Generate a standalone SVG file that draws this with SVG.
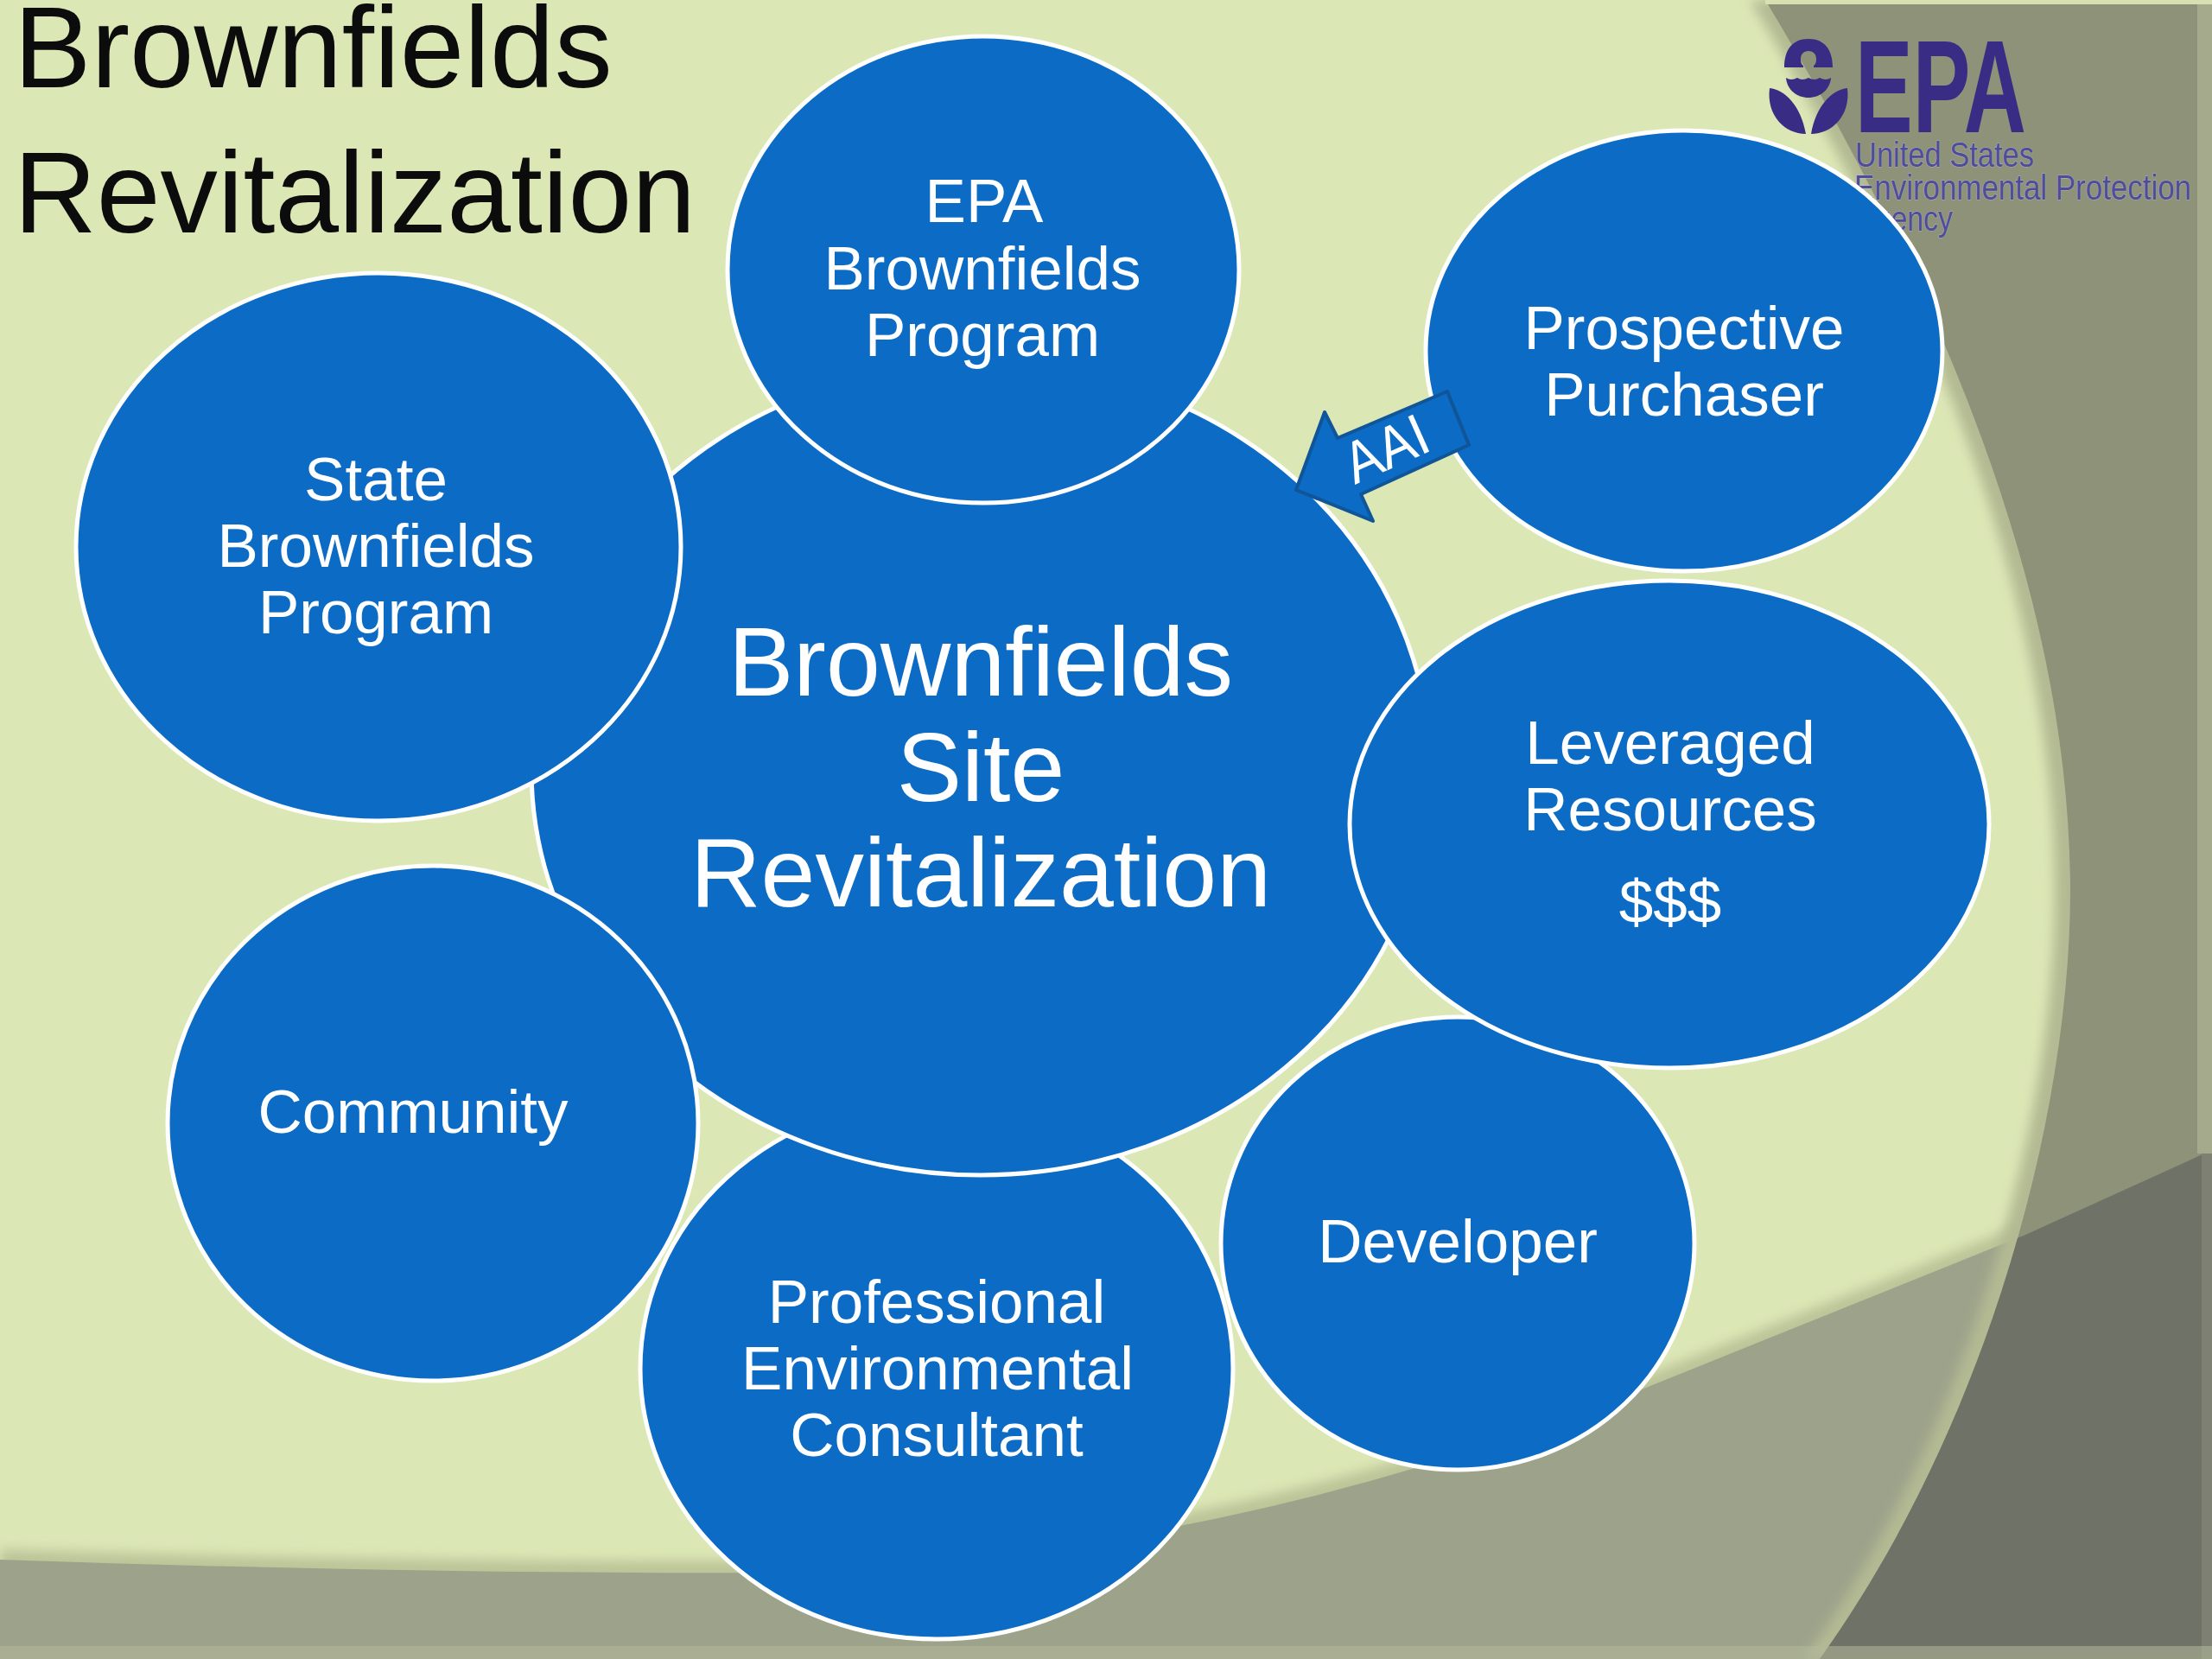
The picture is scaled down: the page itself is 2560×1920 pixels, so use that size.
<svg xmlns="http://www.w3.org/2000/svg" width="2560" height="1920" viewBox="0 0 2560 1920">
<style>
.n{fill:#0c6bc4;stroke:#fff;stroke-width:5}
.t{font-family:"Liberation Sans",Arial,sans-serif;fill:#fff;font-size:71px;text-anchor:middle}
.big{font-size:113px}
.title{font-family:"Liberation Sans",Arial,sans-serif;fill:#0c0c0c;font-size:134px}
.logo{font-family:"Liberation Sans",Arial,sans-serif;fill:#4f4c9c;stroke:#c4c6d4;stroke-width:1.2;stroke-opacity:.6;paint-order:stroke;font-size:41px}
</style>
<defs>
<clipPath id="cr"><path d="M2043 0C2200 260 2395 640 2396 1030C2396 1290 2300 1650 2106 1920L2560 1920L2560 0Z"/></clipPath>
<filter id="b" x="-5%" y="-5%" width="110%" height="110%"><feGaussianBlur stdDeviation="7"/></filter>
</defs>
<g id="background">
<rect width="2560" height="1920" fill="#dce7b6"/>
<path d="M0 1793Q500 1808 900 1806Q1420 1786 1900 1594L2342 1416L2560 1317L2560 1920L0 1920Z" fill="#bcc498" filter="url(#b)"/>
<path d="M0 1805Q500 1822 900 1820Q1420 1800 1900 1608L2342 1430L2560 1331L2560 1920L0 1920Z" fill="#9da28a"/>
<path d="M2025 0C2182 260 2377 640 2378 1030C2378 1290 2282 1650 2088 1920L2560 1920L2560 0Z" fill="#b3ba93" filter="url(#b)"/>
<path d="M2043 0C2200 260 2395 640 2396 1030C2396 1290 2300 1650 2106 1920L2560 1920L2560 0Z" fill="#8d9278"/>
<path d="M0 1805Q500 1822 900 1820Q1420 1800 1900 1608L2342 1430L2560 1331L2560 1920L0 1920Z" fill="#6f7267" clip-path="url(#cr)"/>
<rect x="2043" width="517" height="5" fill="#d6e0b0"/>
<rect x="2543" y="5" width="17" height="1330" fill="#a5aa8c"/>
<rect x="2548" y="1335" width="12" height="585" fill="#7d8072"/>
<rect y="1905" width="2560" height="15" fill="#b4b99c" opacity=".55"/>
</g>
<g id="epa-logo">
<path id="seal" fill="#392c85" d="M2093 45C2074 45 2065 58 2065 78L2087 78L2087 76C2084 74 2084 70 2084 68C2084 56 2102 56 2102 68C2102 70 2102 74 2099 76L2099 78L2121 78C2121 58 2112 45 2093 45ZM2067 90Q2073 94 2080 90Q2086 94 2093 90Q2100 94 2106 90Q2113 94 2119 90C2118 104 2106 113 2093 113C2080 113 2068 104 2067 90ZM2048 102C2066 104 2084 122 2090 155C2066 155 2044 134 2048 102ZM2138 102C2120 104 2102 122 2096 155C2120 155 2142 134 2138 102Z"/>
<text x="2147" y="153" textLength="198" lengthAdjust="spacingAndGlyphs" style="font-family:'Liberation Sans',Arial,sans-serif;font-weight:bold;fill:#392c85;font-size:152px">EPA</text>
<text class="logo" x="2147" y="193" textLength="207" lengthAdjust="spacingAndGlyphs">United States</text>
<text class="logo" x="2146" y="231" textLength="390" lengthAdjust="spacingAndGlyphs">Environmental Protection</text>
<text class="logo" x="2147" y="267" textLength="113" lengthAdjust="spacingAndGlyphs">Agency</text>
</g>
<text class="title" x="16" y="101">Brownfields</text>
<text class="title" x="16" y="269" textLength="789" lengthAdjust="spacingAndGlyphs">Revitalization</text>
<g id="node-consultant"><ellipse class="n" cx="1084" cy="1584" rx="343" ry="313"/>
<text class="t" x="1084" y="1531">Professional</text><text class="t" x="1085" y="1608">Environmental</text><text class="t" x="1084" y="1685">Consultant</text></g>
<g id="node-developer"><ellipse class="n" cx="1687" cy="1439" rx="274" ry="262"/>
<text class="t" x="1687" y="1461">Developer</text></g>
<g id="node-center"><ellipse class="n" cx="1135" cy="890" rx="520" ry="470"/>
<text class="t big" x="1135" y="805">Brownfields</text><text class="t big" x="1135" y="927">Site</text><text class="t big" x="1135" y="1049">Revitalization</text></g>
<g id="node-epa"><ellipse class="n" cx="1138" cy="312" rx="296" ry="270"/>
<text class="t" x="1139" y="257">EPA</text><text class="t" x="1137" y="335">Brownfields</text><text class="t" x="1137" y="412">Program</text></g>
<g id="node-prospective"><ellipse class="n" cx="1949" cy="406" rx="299" ry="255"/>
<text class="t" x="1949" y="404">Prospective</text><text class="t" x="1949" y="481">Purchaser</text></g>
<g id="node-leveraged"><ellipse class="n" cx="1932" cy="954" rx="370" ry="282"/>
<text class="t" x="1933" y="884">Leveraged</text><text class="t" x="1933" y="961">Resources</text><text class="t" x="1933" y="1068">$$$</text></g>
<g id="node-community"><ellipse class="n" cx="501" cy="1300" rx="307" ry="298"/>
<text class="t" x="478" y="1311">Community</text></g>
<g id="node-state"><ellipse class="n" cx="438" cy="633" rx="350" ry="317"/>
<text class="t" x="435" y="579">State</text><text class="t" x="435" y="656">Brownfields</text><text class="t" x="435" y="733">Program</text></g>
<g id="connectors">
<path d="M1500 567L1533 477L1548 507L1675 453L1700 515L1575 572L1589 603Z" fill="#0c6bc4" stroke="#0f5598" stroke-width="4" stroke-linejoin="round"/>
<text class="t" style="font-size:68px;text-anchor:start" transform="translate(1568 561) rotate(-24)" x="0" y="0" textLength="100" lengthAdjust="spacingAndGlyphs">AAI</text>
</g>
</svg>
